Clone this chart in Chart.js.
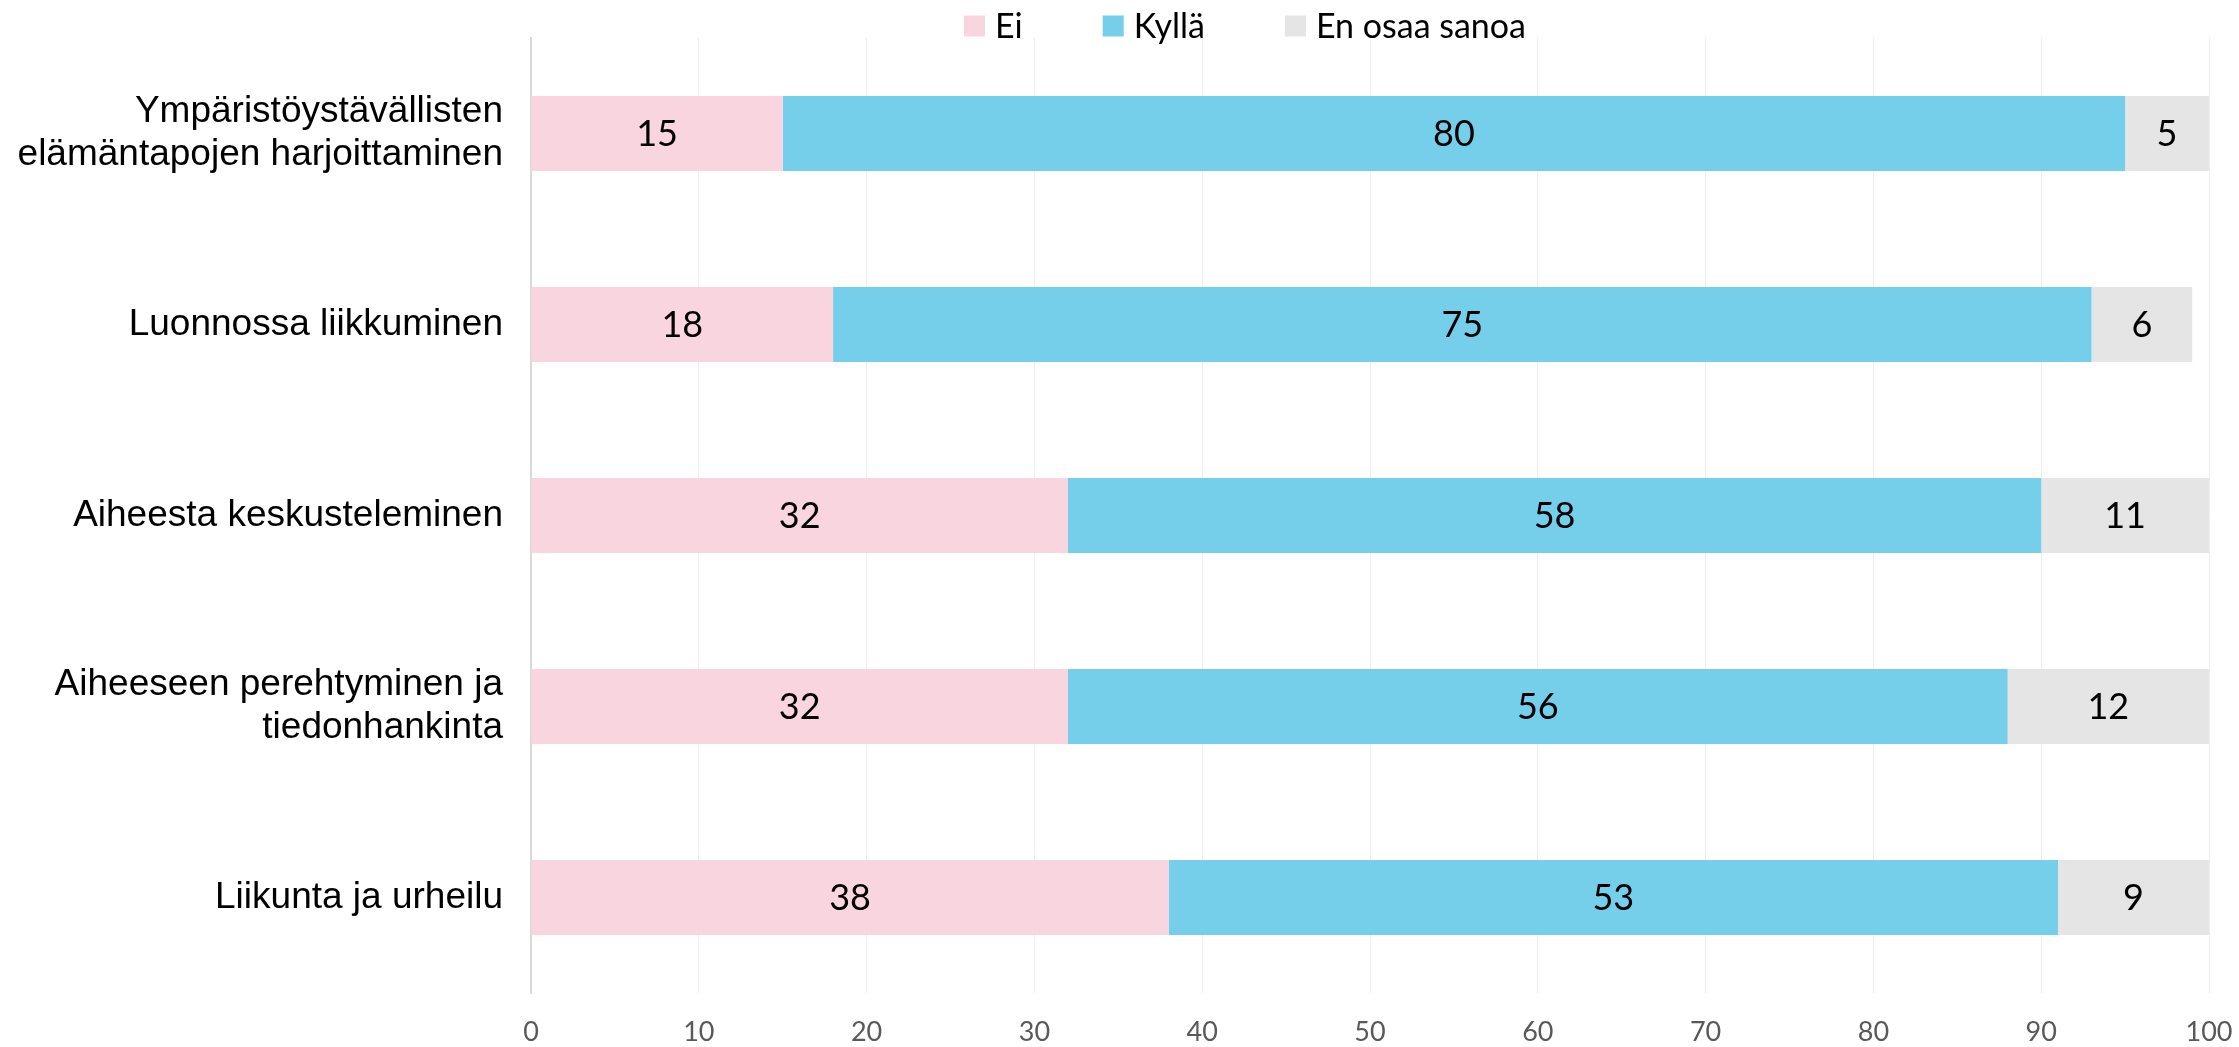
<!DOCTYPE html>
<html lang="fi">
<head>
<meta charset="utf-8">
<title>Ympäristöteot</title>
<script src="https://cdn.jsdelivr.net/npm/chart.js"></script>
<style>
    html, body { margin: 0; padding: 0; background: #fff; }
    canvas { display: block; }
</style>
</head>
<body>
<canvas id="kaavio" width="2239" height="1047"></canvas>
<script>
// Kategoriat ja arvot (%)
const kategoriat = [
    ['Ympäristöystävällisten', 'elämäntapojen harjoittaminen'],
    'Luonnossa liikkuminen',
    'Aiheesta keskusteleminen',
    ['Aiheeseen perehtyminen ja', 'tiedonhankinta'],
    'Liikunta ja urheilu'
];
const sarjat = ['Ei', 'Kyllä', 'En osaa sanoa'];
const ei = [15, 18, 32, 32, 38];
const kylla = [80, 75, 58, 56, 53];
const eos = [5, 6, 11, 12, 9];
const xTikit = [0, 10, 20, 30, 40, 50, 60, 70, 80, 90, 100];

const varit = ['#F9D5E0', '#75CEEA', '#E5E5E5'];

// Arvot palkkien keskelle
const arvot = {
    id: 'arvot',
    afterDatasetsDraw(chart) {
        const ctx = chart.ctx;
        ctx.save();
        ctx.font = '36px Lato';
        ctx.fillStyle = '#000';
        ctx.textAlign = 'center';
        ctx.textBaseline = 'middle';
        chart.data.datasets.forEach((ds, i) => {
            chart.getDatasetMeta(i).data.forEach((bar, j) => {
                const right = Math.min(bar.x, chart.chartArea.right);
                ctx.fillText(ds.data[j], (right + bar.base) / 2, bar.y + 1);
            });
        });
        ctx.restore();
    }
};

// Selite ylös
const selite = {
    id: 'selite',
    afterDraw(chart) {
        const ctx = chart.ctx;
        const items = chart.data.datasets;
        const box = 21, gap = 10, valit = 80;
        ctx.save();
        ctx.font = '34px Lato';
        ctx.textBaseline = 'middle';
        const leveydet = items.map(d => box + gap + ctx.measureText(d.label).width);
        const yhteensa = leveydet.reduce((a, b) => a + b, 0) + valit * (items.length - 1);
        let x = 1245 - yhteensa / 2;
        const y = 26;
        items.forEach((d, i) => {
            ctx.fillStyle = d.backgroundColor;
            ctx.fillRect(x, y - box / 2, box, box);
            ctx.fillStyle = '#000';
            ctx.fillText(d.label, x + box + gap, y + 1);
            x += leveydet[i] + valit;
        });
        ctx.restore();
    }
};

const ctx = document.getElementById('kaavio').getContext('2d');
new Chart(ctx, {
    type: 'bar',
    data: {
        labels: kategoriat,
        datasets: [
            { label: sarjat[0], data: ei, backgroundColor: varit[0] },
            { label: sarjat[1], data: kylla, backgroundColor: varit[1] },
            { label: sarjat[2], data: eos, backgroundColor: varit[2] }
        ]
    },
    options: {
        indexAxis: 'y',
        responsive: false,
        animation: false,
        layout: { padding: { top: 38, right: 30, left: 0, bottom: 0 } },
        datasets: {
            bar: { categoryPercentage: 1, barPercentage: 0.393, borderWidth: 0 }
        },
        scales: {
            x: {
                stacked: true,
                min: 0,
                max: 100,
                afterBuildTicks: s => { s.ticks = xTikit.map(v => ({ value: v })); },
                afterFit: s => {
                    s.height = 54;
                    s.paddingLeft = 0;
                    s.paddingRight = 0;
                },
                grid: { color: '#EEEEEE', lineWidth: 1, drawTicks: false },
                border: { display: false },
                ticks: {
                    padding: 23,
                    color: '#595959',
                    font: { family: 'Lato', size: 27 }
                }
            },
            y: {
                stacked: true,
                afterFit: s => {
                    s.width = 531;
                    s.paddingTop = 0;
                    s.paddingBottom = 0;
                },
                grid: { display: false, drawTicks: false },
                border: { display: true, color: '#D9D9D9', width: 2 },
                ticks: {
                    padding: 28,
                    color: '#000',
                    font: { family: 'Liberation Sans', size: 37, lineHeight: 1.16 }
                }
            }
        },
        plugins: {
            legend: { display: false },
            tooltip: { enabled: false }
        }
    },
    plugins: [arvot, selite]
});
</script>
</body>
</html>
